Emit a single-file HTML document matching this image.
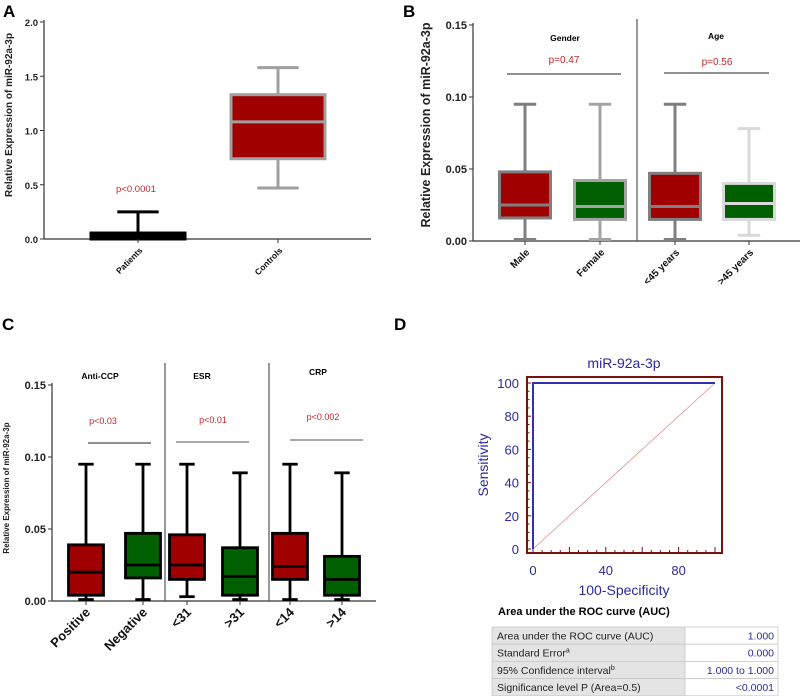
<!DOCTYPE html>
<html><head><meta charset="utf-8"><style>
html,body{margin:0;padding:0;background:#fff;}
svg{display:block;font-family:"Liberation Sans",Arial,sans-serif;}
</style></head><body>
<svg id="fig" width="800" height="696" viewBox="0 0 800 696" xmlns="http://www.w3.org/2000/svg">
<g id="pA"></g>
<g id="pB"></g>
<g id="pC"></g>
<g id="pD"></g>
</svg>
<script>
// Panel A data
const aCats = ["Patients","Controls"];
const aMin = [0, 0.47], aQ1 = [0, 0.74], aMed = [0, 1.08], aQ3 = [0.055, 1.33], aMax = [0.25, 1.58];
const aTicks = ["0.0","0.5","1.0","1.5","2.0"];
const aTickVals = [0,0.5,1.0,1.5,2.0];
// Panel B data
const bCats = ["Male","Female","<45 years",">45 years"];
const bMin = [0.001,0.001,0.001,0.004], bQ1 = [0.016,0.015,0.015,0.015], bMed = [0.025,0.024,0.024,0.026], bQ3 = [0.048,0.042,0.047,0.040], bMax = [0.095,0.095,0.095,0.078];
const bTicks = ["0.00","0.05","0.10","0.15"];
const bTickVals = [0,0.05,0.10,0.15];
// Panel C data
const cCats = ["Positive","Negative","<31",">31","<14",">14"];
const cMin = [0.001,0.001,0.003,0.001,0.001,0.001], cQ1 = [0.004,0.016,0.015,0.004,0.015,0.004], cMed = [0.020,0.025,0.025,0.017,0.024,0.015], cQ3 = [0.039,0.047,0.046,0.037,0.047,0.031], cMax = [0.095,0.095,0.095,0.089,0.095,0.089];
// Panel D data
const rocX = [0,0,100], rocY = [0,100,100];
const rocTicksY = [0,20,40,60,80,100];
const rocTicksX = [0,40,80];
const tblLabels = ["Area under the ROC curve (AUC)","Standard Error","95% Confidence interval","Significance level P (Area=0.5)"];
const tblSup = ["","a","b",""];
const tblValues = ["1.000","0.000","1.000 to 1.000","<0.0001"];

const NS="http://www.w3.org/2000/svg";
function mk(parent,tag,attrs,text){const e=document.createElementNS(NS,tag);for(const k in attrs)e.setAttribute(k,attrs[k]);if(text!==undefined)e.textContent=text;parent.appendChild(e);return e;}

function boxPlot(g,opt){
  const ys=v=>opt.y0-(v-opt.v0)/(opt.v1-opt.v0)*(opt.y0-opt.y1);
  const ya=mk(g,'line',{x1:opt.ax,y1:opt.y1-2,x2:opt.ax,y2:opt.y0,stroke:'#333','stroke-width':1.2});
  
  
  const xa=mk(g,'line',{x1:opt.ax,y1:opt.y0,x2:opt.axEnd,y2:opt.y0,stroke:'#333','stroke-width':1.2});
  
  
  opt.tickVals.forEach((v,i)=>{
    const y=ys(v);
    mk(g,'line',{x1:opt.ax-4,y1:y,x2:opt.ax,y2:y,stroke:'#333','stroke-width':1});
    const t=mk(g,'text',{x:opt.ax-6,y:y+4,'text-anchor':'end','font-size':opt.tickFs,'font-weight':'bold',fill:'#222'},opt.ticks[i]);
    
    
  });
  opt.cats.forEach((c,i)=>{
    const cx=opt.cx[i], w=opt.bw;
    const grp=mk(g,'g',{});
    
    
    const sc=opt.stroke[i], sw=opt.sw;
    mk(grp,'line',{x1:cx,y1:ys(opt.max[i]),x2:cx,y2:ys(opt.min[i]),stroke:sc,'stroke-width':sw});
    mk(grp,'line',{x1:cx-w*0.22,y1:ys(opt.max[i]),x2:cx+w*0.22,y2:ys(opt.max[i]),stroke:sc,'stroke-width':sw});
    mk(grp,'line',{x1:cx-w*0.22,y1:ys(opt.min[i]),x2:cx+w*0.22,y2:ys(opt.min[i]),stroke:sc,'stroke-width':sw});
    const top=ys(opt.q3[i]),bot=ys(opt.q1[i]);
    mk(grp,'rect',{x:cx-w/2,y:top,width:w,height:Math.max(bot-top,0.5),fill:opt.fill[i],stroke:sc,'stroke-width':sw});
    mk(grp,'line',{x1:cx-w/2,y1:ys(opt.med[i]),x2:cx+w/2,y2:ys(opt.med[i]),stroke:sc,'stroke-width':sw});
    mk(g,'line',{x1:cx,y1:opt.y0,x2:cx,y2:opt.y0+4,stroke:'#333','stroke-width':1});
    const lx=cx+opt.lblDx, ly=opt.y0+opt.lblDy;
    const t=mk(g,'text',{x:lx,y:ly,'text-anchor':'end','font-size':opt.lblFs,'font-weight':'bold',fill:'#111',transform:`rotate(-45 ${lx} ${ly})`},c);
    
    
  });
  return ys;
}
function txt(g,x,y,s,attrs,name){const t=mk(g,'text',Object.assign({x:x,y:y},attrs),s);return t;}

// ---- Panel A
const gA=document.getElementById('pA');
txt(gA,3,17,'A',{'font-size':17,'font-weight':'bold'},'panel-label-a');
boxPlot(gA,{ax:44,axEnd:371,y0:239,y1:22,v0:0,v1:2,ticks:aTicks,tickVals:aTickVals,tickFs:9.5,cats:aCats,cx:[138,278],bw:94,
  min:aMin,q1:aQ1,med:aMed,q3:aQ3,max:aMax,stroke:['#000','#a0a0a0'],fill:['#000','#a00000'],sw:3,lblDx:5,lblDy:12,lblFs:8.5});
txt(gA,12,115,'Relative Expression of miR-92a-3p',{'font-size':10,'font-weight':'bold','text-anchor':'middle',transform:'rotate(-90 12 115)',fill:'#222'},'y-axis-title');
txt(gA,136,192,'p<0.0001',{'font-size':9.5,fill:'#c0282d','text-anchor':'middle'},'p-value-a');

// ---- Panel B
const gB=document.getElementById('pB');
txt(gB,403,17,'B',{'font-size':17,'font-weight':'bold'},'panel-label-b');
boxPlot(gB,{ax:473,axEnd:800,y0:241,y1:25,v0:0,v1:0.15,ticks:bTicks,tickVals:bTickVals,tickFs:11,cats:bCats,cx:[525,600,675,749],bw:51,
  min:bMin,q1:bQ1,med:bMed,q3:bQ3,max:bMax,stroke:['#7f7f7f','#a3a3a3','#7f7f7f','#d9d9d9'],fill:['#a00000','#006000','#a00000','#006000'],sw:3,lblDx:5,lblDy:12,lblFs:10});
mk(gB,'line',{x1:637,y1:19,x2:637,y2:241,stroke:'#555','stroke-width':1.2});
txt(gB,430,125,'Relative Expression of miR-92a-3p',{'font-size':12.5,'font-weight':'bold','text-anchor':'middle',transform:'rotate(-90 430 125)',fill:'#222'},'y-axis-title');
txt(gB,565,41,'Gender',{'font-size':8.5,'font-weight':'bold','text-anchor':'middle'},'group-gender');
txt(gB,716,39,'Age',{'font-size':8.5,'font-weight':'bold','text-anchor':'middle'},'group-age');
txt(gB,564,63,'p=0.47',{'font-size':10,fill:'#c0282d','text-anchor':'middle'},'p-value-gender');
txt(gB,717,65,'p=0.56',{'font-size':10,fill:'#c0282d','text-anchor':'middle'},'p-value-age');
mk(gB,'line',{x1:507,y1:74,x2:621,y2:74,stroke:'#222','stroke-width':1});
mk(gB,'line',{x1:664,y1:73,x2:769,y2:73,stroke:'#222','stroke-width':1});

// ---- Panel C
const gC=document.getElementById('pC');
txt(gC,2,330,'C',{'font-size':17,'font-weight':'bold'},'panel-label-c');
boxPlot(gC,{ax:52,axEnd:376,y0:601,y1:385,v0:0,v1:0.15,ticks:bTicks,tickVals:bTickVals,tickFs:11,cats:cCats,cx:[86,143,187,240,290,342],bw:35,
  min:cMin,q1:cQ1,med:cMed,q3:cQ3,max:cMax,stroke:['#000','#000','#000','#000','#000','#000'],fill:['#a00000','#006000','#a00000','#006000','#a00000','#006000'],sw:2.8,lblDx:5,lblDy:12,lblFs:13});
mk(gC,'line',{x1:165,y1:363,x2:165,y2:601,stroke:'#555','stroke-width':1.2});
mk(gC,'line',{x1:269,y1:363,x2:269,y2:601,stroke:'#555','stroke-width':1.2});
txt(gC,9,488,'Relative Expression of miR-92a-3p',{'font-size':8,'font-weight':'bold','text-anchor':'middle',transform:'rotate(-90 9 488)',fill:'#222'},'y-axis-title');
txt(gC,100,379,'Anti-CCP',{'font-size':8.5,'font-weight':'bold','text-anchor':'middle'},'group-anti-ccp');
txt(gC,202,379,'ESR',{'font-size':8.5,'font-weight':'bold','text-anchor':'middle'},'group-esr');
txt(gC,318,375,'CRP',{'font-size':8.5,'font-weight':'bold','text-anchor':'middle'},'group-crp');
txt(gC,103,424,'p<0.03',{'font-size':9,fill:'#c0282d','text-anchor':'middle'},'p-value-anti-ccp');
txt(gC,213,423,'p<0.01',{'font-size':9,fill:'#c0282d','text-anchor':'middle'},'p-value-esr');
txt(gC,323,420,'p<0.002',{'font-size':9,fill:'#c0282d','text-anchor':'middle'},'p-value-crp');
mk(gC,'line',{x1:88,y1:443,x2:151,y2:443,stroke:'#222','stroke-width':1});
mk(gC,'line',{x1:176,y1:442,x2:249,y2:442,stroke:'#555','stroke-width':1});
mk(gC,'line',{x1:290,y1:440,x2:363,y2:440,stroke:'#555','stroke-width':1});

// ---- Panel D
const gD=document.getElementById('pD');
txt(gD,394,330,'D',{'font-size':17,'font-weight':'bold'},'panel-label-d');
const rx=v=>533+v/100*(715-533), ry=v=>549-v/100*(549-383);
const blue='#2a2a9a';
txt(gD,624,368,'miR-92a-3p',{'font-size':14,fill:blue,'text-anchor':'middle'},'roc-title');
const fr=mk(gD,'rect',{x:527,y:377,width:195,height:176,fill:'none',stroke:'#7a1010','stroke-width':2});


for(let v=0;v<=100;v+=5){
  const big=v%20===0;
  mk(gD,'line',{x1:527,y1:ry(v),x2:527+(big?4:2.5),y2:ry(v),stroke:'#7a1010','stroke-width':1});
  mk(gD,'line',{x1:rx(v),y1:553,x2:rx(v),y2:553-(v%20===0?6:3),stroke:'#7a1010','stroke-width':1});
}
rocTicksY.forEach(v=>{txt(gD,519,ry(v)+5,String(v),{'font-size':13,fill:blue,'text-anchor':'end'},'roc-y-tick');});
rocTicksX.forEach(v=>{txt(gD,rx(v),575,String(v),{'font-size':13,fill:blue,'text-anchor':'middle'},'roc-x-tick');});
txt(gD,624,595,'100-Specificity',{'font-size':14,fill:blue,'text-anchor':'middle'},'roc-x-title');
txt(gD,488,465,'Sensitivity',{'font-size':14,fill:blue,'text-anchor':'middle',transform:'rotate(-90 488 465)'},'roc-y-title');
const diag=mk(gD,'line',{x1:rx(0),y1:ry(0),x2:rx(100),y2:ry(100),stroke:'#e09090','stroke-width':0.8});


const rc=mk(gD,'polyline',{points:rocX.map((v,i)=>rx(v)+','+ry(rocY[i])).join(' '),fill:'none',stroke:'#3030b0','stroke-width':2});


txt(gD,498,615,'Area under the ROC curve (AUC)',{'font-size':11,'font-weight':'bold'},'auc-table-title');
const rowH=17.2, ty=627;
tblLabels.forEach((l,i)=>{
  const y=ty+i*rowH;
  mk(gD,'rect',{x:492,y:y,width:193,height:rowH,fill:'#e4e4e4',stroke:'#c8c8c8','stroke-width':0.8});
  mk(gD,'rect',{x:685,y:y,width:93,height:rowH,fill:'#fff',stroke:'#c8c8c8','stroke-width':0.8});
  const t=txt(gD,497,y+12.5,l,{'font-size':10.5,fill:'#222'},'auc-row-label');
  if(tblSup[i]){mk(t,'tspan',{'font-size':7,dy:-4},tblSup[i]);}
  txt(gD,774,y+12.5,tblValues[i],{'font-size':10.5,fill:'#2a2a9a','text-anchor':'end'},'auc-row-value');
});
</script>
</body></html>
